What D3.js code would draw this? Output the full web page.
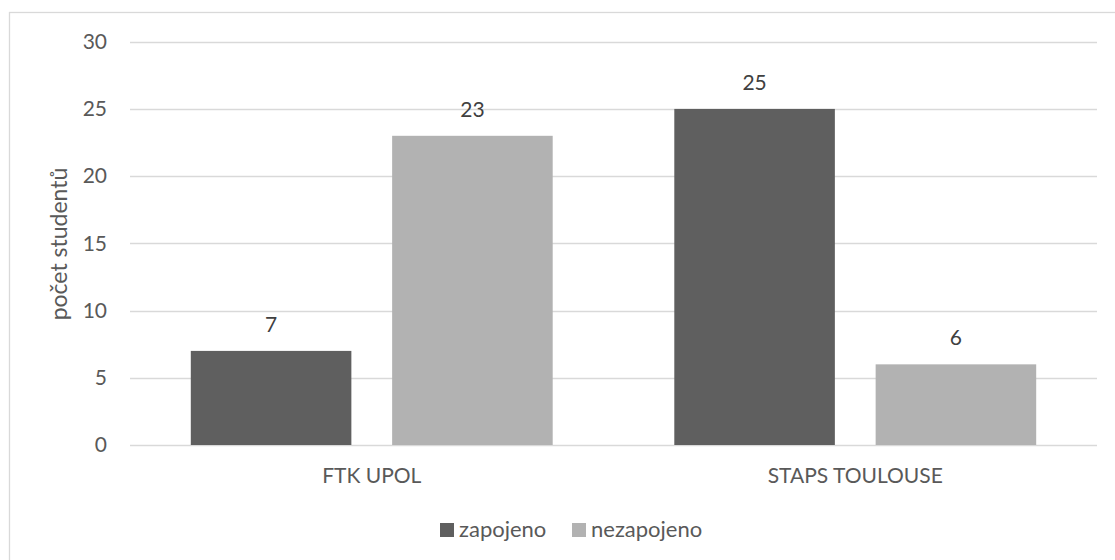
<!DOCTYPE html>
<html><head><meta charset="utf-8">
<script src="https://cdn.jsdelivr.net/npm/d3@7"></script>
<style>body{margin:0;background:#fff;} text{font-family:Lato,"Open Sans",sans-serif;}</style>
</head><body>
<svg id="c" width="1115" height="560"></svg>
<script>
const categories = ["FTK UPOL", "STAPS TOULOUSE"];
const seriesNames = ["zapojeno", "nezapojeno"];
const zapojeno = [7, 25];
const nezapojeno = [23, 6];
const yTicks = [0, 5, 10, 15, 20, 25, 30];
const yTitle = "počet studentů";
const colors = ["#5f5f5f", "#b2b2b2"];

const svg = d3.select("#c");
svg.append("rect").attr("x", 9.5).attr("y", 12.5).attr("width", 1200).attr("height", 600)
  .attr("fill", "#fff").attr("stroke", "#d9d9d9").attr("stroke-width", 1.3);

const x0 = d3.scaleBand().domain(categories).range([130, 1097]);
const x1 = d3.scaleBand().domain(seriesNames).range([0, x0.bandwidth()]).paddingInner(0.2025).paddingOuter(0.302);
const y = d3.scaleLinear().domain([0, 30]).range([445, 41.7]);

svg.append("g").selectAll("line").data(yTicks).join("line")
  .attr("x1", 130).attr("x2", 1097)
  .attr("y1", d => Math.round(y(d)) + 0.5).attr("y2", d => Math.round(y(d)) + 0.5)
  .attr("stroke", "#d9d9d9").attr("stroke-width", 1.3);

const yAxis = d3.axisLeft(y).tickValues(yTicks).tickSize(0).tickPadding(0);
const ya = svg.append("g").attr("transform", "translate(107,0)").call(yAxis);
ya.select(".domain").remove();
ya.selectAll("text").attr("fill", "#595959").attr("font-size", null).style("font-size", "21px").style("font-family", "Lato,'Open Sans',sans-serif");

const xAxis = d3.axisBottom(x0).tickSize(0).tickPadding(0);
const xa = svg.append("g").attr("transform", "translate(0,483)").call(xAxis);
xa.select(".domain").remove();
xa.selectAll("text").attr("dy", 0).attr("fill", "#595959").style("font-size", "21px").style("font-family", "Lato,'Open Sans',sans-serif");

const rows = categories.map((c, i) => ({cat: c, vals: [zapojeno[i], nezapojeno[i]]}));
const groups = svg.append("g").selectAll("g").data(rows).join("g")
  .attr("transform", d => `translate(${x0(d.cat)},0)`);
groups.selectAll("rect").data(d => d.vals.map((v, j) => ({s: seriesNames[j], v, j}))).join("rect")
  .attr("x", d => x1(d.s)).attr("width", x1.bandwidth())
  .attr("y", d => y(d.v)).attr("height", d => y(0) - y(d.v))
  .attr("fill", d => colors[d.j]);
groups.selectAll("text.lbl").data(d => d.vals.map((v, j) => ({s: seriesNames[j], v, j}))).join("text")
  .attr("class", "lbl")
  .attr("x", d => x1(d.s) + x1.bandwidth() / 2).attr("y", d => y(d.v) - 19)
  .attr("text-anchor", "middle").attr("fill", "#404040").style("font-size", "21px")
  .text(d => d.v);

svg.append("text").attr("transform", "translate(67,244) rotate(-90)")
  .attr("text-anchor", "middle").attr("fill", "#595959").style("font-size", "23px").text(yTitle);

const leg = svg.append("g");
const legX = [440, 572];
seriesNames.forEach((s, i) => {
  leg.append("rect").attr("x", legX[i]).attr("y", 523).attr("width", 14).attr("height", 14).attr("fill", colors[i]);
  leg.append("text").attr("x", legX[i] + 19).attr("y", 537).attr("fill", "#595959").style("font-size", "22px").text(s);
});
</script>
</body></html>
